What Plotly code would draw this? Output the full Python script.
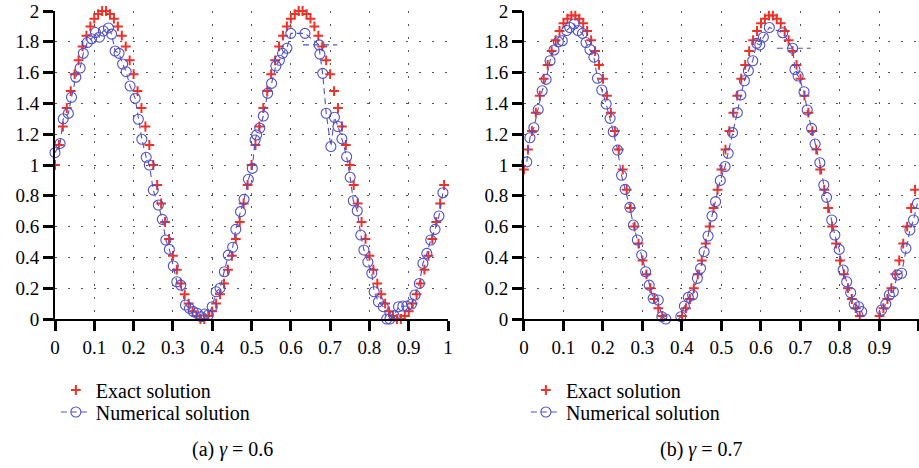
import plotly.graph_objects as go

# ---------------- data ----------------
x_exact = [0.00, 0.01, 0.02, 0.03, 0.04, 0.05, 0.06, 0.07, 0.08, 0.09,
           0.10, 0.11, 0.12, 0.13, 0.14, 0.15, 0.16, 0.17, 0.18, 0.19,
           0.20, 0.21, 0.22, 0.23, 0.24, 0.25, 0.26, 0.27, 0.28, 0.29,
           0.30, 0.31, 0.32, 0.33, 0.34, 0.35, 0.36, 0.37, 0.38, 0.39,
           0.40, 0.41, 0.42, 0.43, 0.44, 0.45, 0.46, 0.47, 0.48, 0.49,
           0.50, 0.51, 0.52, 0.53, 0.54, 0.55, 0.56, 0.57, 0.58, 0.59,
           0.60, 0.61, 0.62, 0.63, 0.64, 0.65, 0.66, 0.67, 0.68, 0.69,
           0.70, 0.71, 0.72, 0.73, 0.74, 0.75, 0.76, 0.77, 0.78, 0.79,
           0.80, 0.81, 0.82, 0.83, 0.84, 0.85, 0.86, 0.87, 0.88, 0.89,
           0.90, 0.91, 0.92, 0.93, 0.94, 0.95, 0.96, 0.97, 0.98, 0.99]

exact_a = [1.00, 1.13, 1.25, 1.37, 1.48, 1.59, 1.68, 1.77, 1.84, 1.90,
           1.95, 1.98, 2.00, 2.00, 1.98, 1.95, 1.90, 1.84, 1.77, 1.68,
           1.59, 1.48, 1.37, 1.25, 1.13, 1.00, 0.87, 0.75, 0.63, 0.52,
           0.41, 0.32, 0.23, 0.16, 0.10, 0.05, 0.02, 0.00, 0.00, 0.02,
           0.05, 0.10, 0.16, 0.23, 0.32, 0.41, 0.52, 0.63, 0.75, 0.87,
           1.00, 1.13, 1.25, 1.37, 1.48, 1.59, 1.68, 1.77, 1.84, 1.90,
           1.95, 1.98, 2.00, 2.00, 1.98, 1.95, 1.90, 1.84, 1.77, 1.68,
           1.59, 1.48, 1.37, 1.25, 1.13, 1.00, 0.87, 0.75, 0.63, 0.52,
           0.41, 0.32, 0.23, 0.16, 0.10, 0.05, 0.02, 0.00, 0.00, 0.02,
           0.05, 0.10, 0.16, 0.23, 0.32, 0.41, 0.52, 0.63, 0.75, 0.87]

exact_b = [0.97, 1.10, 1.22, 1.34, 1.45, 1.56, 1.65, 1.74, 1.81, 1.87,
           1.92, 1.95, 1.97, 1.97, 1.95, 1.92, 1.87, 1.81, 1.74, 1.65,
           1.56, 1.45, 1.34, 1.22, 1.10, 0.97, 0.84, 0.72, 0.60, 0.49,
           0.38, 0.29, 0.20, 0.13, 0.07, 0.02, -0.01, -0.03, -0.03, -0.01,
           0.02, 0.07, 0.13, 0.20, 0.29, 0.38, 0.49, 0.60, 0.72, 0.84,
           0.97, 1.10, 1.22, 1.34, 1.45, 1.56, 1.65, 1.74, 1.81, 1.87,
           1.92, 1.95, 1.97, 1.97, 1.95, 1.92, 1.87, 1.81, 1.74, 1.65,
           1.56, 1.45, 1.34, 1.22, 1.10, 0.97, 0.84, 0.72, 0.60, 0.49,
           0.38, 0.29, 0.20, 0.13, 0.07, 0.02, -0.01, -0.03, -0.03, -0.01,
           0.02, 0.07, 0.13, 0.20, 0.29, 0.38, 0.49, 0.60, 0.72, 0.84]

x_num_a = [0.000, 0.013, 0.021, 0.034, 0.042, 0.053, 0.064, 0.072, 0.082, 0.093,
           0.103, 0.113, 0.123, 0.136, 0.144, 0.153, 0.163, 0.172, 0.181, 0.191,
           0.204, 0.212, 0.221, 0.232, 0.240, 0.250, 0.263, 0.273, 0.282, 0.291,
           0.301, 0.310, 0.320, 0.332, 0.342, 0.352, 0.362, 0.372, 0.381, 0.390,
           0.400, 0.410, 0.420, 0.431, 0.441, 0.452, 0.460, 0.472, 0.481, 0.492,
           0.502, 0.509, 0.513, 0.521, 0.530, 0.541, 0.551, 0.562, 0.571, 0.579,
           0.590, 0.600, 0.636, 0.672, 0.674, 0.681, 0.690, 0.702, 0.711, 0.720,
           0.730, 0.742, 0.751, 0.759, 0.769, 0.778, 0.786, 0.796, 0.806, 0.812,
           0.823, 0.835, 0.844, 0.852, 0.863, 0.874, 0.885, 0.895, 0.907, 0.916,
           0.927, 0.936, 0.946, 0.956, 0.967, 0.977, 0.987]
y_num_a = [1.08, 1.14, 1.30, 1.335, 1.44, 1.57, 1.63, 1.725, 1.795, 1.82,
           1.86, 1.83, 1.87, 1.89, 1.85, 1.74, 1.725, 1.656, 1.606, 1.513,
           1.433, 1.297, 1.167, 1.05, 1.00, 0.837, 0.74, 0.647, 0.513, 0.452,
           0.344, 0.242, 0.22, 0.091, 0.069, 0.048, 0.037, 0.015, 0.032, 0.026,
           0.08, 0.177, 0.20, 0.307, 0.415, 0.466, 0.582, 0.697, 0.777, 0.907,
           0.978, 1.162, 1.195, 1.24, 1.318, 1.466, 1.53, 1.643, 1.68, 1.725,
           1.758, 1.855, 1.855, 1.78, 1.72, 1.595, 1.336, 1.12, 1.31, 1.25,
           1.17, 1.054, 0.92, 0.768, 0.703, 0.545, 0.448, 0.37, 0.297, 0.177,
           0.112, 0.08, 0.0, 0.0, 0.02, 0.08, 0.084, 0.084, 0.097, 0.156,
           0.231, 0.361, 0.426, 0.513, 0.582, 0.669, 0.82]

x_num_b = [0.007, 0.015, 0.025, 0.036, 0.046, 0.056, 0.066, 0.076, 0.087, 0.097,
           0.108, 0.116, 0.127, 0.137, 0.148, 0.157, 0.167, 0.177, 0.186, 0.197,
           0.208, 0.218, 0.226, 0.237, 0.247, 0.256, 0.268, 0.277, 0.287, 0.298,
           0.308, 0.317, 0.327, 0.340, 0.349, 0.359, 0.367, 0.378, 0.388, 0.397,
           0.406, 0.416, 0.427, 0.439, 0.447, 0.456, 0.466, 0.476, 0.485, 0.497,
           0.509, 0.517, 0.528, 0.540, 0.549, 0.558, 0.568, 0.579, 0.589, 0.597,
           0.606, 0.621, 0.655, 0.680, 0.686, 0.694, 0.709, 0.717, 0.728, 0.737,
           0.749, 0.759, 0.766, 0.779, 0.787, 0.798, 0.808, 0.817, 0.827, 0.836,
           0.847, 0.855, 0.865, 0.876, 0.886, 0.897, 0.905, 0.916, 0.925, 0.935,
           0.945, 0.956, 0.967, 0.977, 0.986, 0.996]
y_num_b = [1.02, 1.177, 1.242, 1.36, 1.482, 1.556, 1.677, 1.747, 1.80, 1.807,
           1.873, 1.893, 1.916, 1.873, 1.855, 1.795, 1.75, 1.70, 1.563, 1.487,
           1.396, 1.303, 1.216, 1.097, 0.933, 0.842, 0.725, 0.61, 0.513, 0.416,
           0.307, 0.22, 0.134, 0.123, 0.015, 0.0, -0.02, -0.028, -0.01, 0.015,
           0.084, 0.141, 0.156, 0.264, 0.329, 0.437, 0.539, 0.669, 0.762, 0.90,
           0.99, 1.076, 1.21, 1.34, 1.455, 1.547, 1.612, 1.677, 1.79, 1.78,
           1.83, 1.893, 1.859, 1.758, 1.62, 1.578, 1.476, 1.357, 1.238, 1.136,
           1.015, 0.87, 0.79, 0.643, 0.545, 0.452, 0.318, 0.242, 0.171, 0.097,
           0.08, 0.048, -0.028, -0.032, -0.032, -0.024, 0.058, 0.097, 0.156, 0.177,
           0.286, 0.297, 0.459, 0.578, 0.643, 0.751]

# horizontal dashed stroke drawn by the solver near the second peak
seg_x_a = [0.631, 0.718]
seg_y_a = [1.78, 1.78]
seg_x_b = [0.640, 0.726]
seg_y_b = [1.758, 1.758]

x_ticks = [0, 0.1, 0.2, 0.3, 0.4, 0.5, 0.6, 0.7, 0.8, 0.9, 1]
y_ticks = [0, 0.2, 0.4, 0.6, 0.8, 1, 1.2, 1.4, 1.6, 1.8, 2]
captions = ["(a) <i>γ</i> = 0.6", "(b) <i>γ</i> = 0.7"]
series_names = ["Exact solution", "Numerical solution"]

# ---------------- style ----------------
RED = "rgb(238,50,40)"
BLUE = "rgb(80,80,200)"
FONT = "Liberation Serif, Times New Roman, DejaVu Serif, serif"

fig = go.Figure()

panels = [
    ("x", "y", "legend", "legend2", x_exact, exact_a, x_num_a, y_num_a, seg_x_a, seg_y_a),
    ("x2", "y2", "legend3", "legend4", x_exact, exact_b, x_num_b, y_num_b, seg_x_b, seg_y_b),
]
for xa, ya, lg1, lg2, xe, ye, xn, yn, sx, sy in panels:
    fig.add_trace(go.Scatter(
        x=xe, y=ye, mode="markers", name=series_names[0],
        xaxis=xa, yaxis=ya, legend=lg1, cliponaxis=False,
        marker=dict(symbol="cross-thin", size=7, color=RED,
                    line=dict(width=2, color=RED)),
    ))
    fig.add_trace(go.Scatter(
        x=sx, y=sy, mode="lines", showlegend=False,
        xaxis=xa, yaxis=ya, hoverinfo="skip",
        line=dict(color=BLUE, width=1.1, dash="6px,4px"),
    ))
    fig.add_trace(go.Scatter(
        x=xn, y=yn, mode="lines+markers", name=series_names[1],
        xaxis=xa, yaxis=ya, legend=lg2, cliponaxis=False,
        line=dict(color=BLUE, width=1.1, dash="6px,4px"),
        marker=dict(symbol="circle-open", size=10, color=BLUE,
                    line=dict(width=1.1, color=BLUE)),
    ))

axis_common = dict(
    showline=True, linecolor="black", linewidth=2,
    ticks="outside", ticklen=10, tickwidth=2.5, tickcolor="black",
    showgrid=True, gridcolor="#555555", gridwidth=1.3,
    zeroline=False, mirror=False, automargin=False,
    tickfont=dict(family=FONT, size=19, color="black"),
)
xaxis_common = dict(axis_common, range=[0, 1], tickvals=x_ticks,
                    griddash="2px,11px")
yaxis_common = dict(axis_common, range=[0, 2], tickvals=y_ticks,
                    griddash="2px,11px")

legend_common = dict(
    font=dict(family=FONT, size=20, color="black"),
    bgcolor="rgba(0,0,0,0)", borderwidth=0,
    yanchor="middle", xanchor="left", tracegroupgap=0,
    itemsizing="trace", itemwidth=30,
)

fig.update_layout(
    width=919, height=468, autosize=False,
    margin=dict(l=55, r=0, t=11, b=149, pad=0),
    paper_bgcolor="white", plot_bgcolor="white",
    xaxis=dict(xaxis_common, domain=[0, 0.4549], anchor="y"),
    yaxis=dict(yaxis_common, domain=[0, 1], anchor="x"),
    xaxis2=dict(xaxis_common, domain=[0.5428, 1.0], anchor="y2"),
    yaxis2=dict(yaxis_common, domain=[0, 1], anchor="x2"),
    legend=dict(legend_common, x=0.001, y=-0.2305),
    legend2=dict(legend_common, x=0.001, y=-0.3019),
    legend3=dict(legend_common, x=0.545, y=-0.2305),
    legend4=dict(legend_common, x=0.545, y=-0.3019),
    showlegend=True,
    annotations=[
        dict(text=captions[0], xref="paper", yref="paper", x=0.2049, y=-0.4253,
             xanchor="center", yanchor="middle", showarrow=False,
             font=dict(family=FONT, size=20, color="black")),
        dict(text=captions[1], xref="paper", yref="paper", x=0.7477, y=-0.4253,
             xanchor="center", yanchor="middle", showarrow=False,
             font=dict(family=FONT, size=20, color="black")),
    ],
)

fig.write_html(
    "out.html",
    config={"responsive": False, "displayModeBar": False},
    post_script="document.body.style.margin='0';document.body.style.overflow='hidden';",
)
